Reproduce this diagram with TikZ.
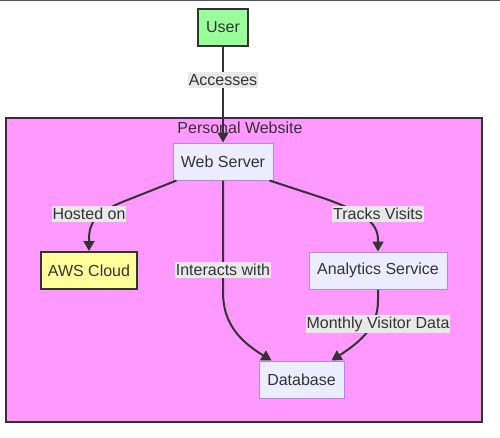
\documentclass[tikz,border=0pt]{standalone}
\usepackage{fontspec}
\setmainfont{Liberation Sans}
\usetikzlibrary{arrows.meta,calc}
\definecolor{txt}{HTML}{333333}
\definecolor{usergreen}{HTML}{99FF99}
\definecolor{awsyellow}{HTML}{FFFF99}
\definecolor{subpink}{HTML}{FF99FF}
\definecolor{nodefill}{HTML}{ECECFF}
\definecolor{nodeline}{HTML}{A98BE0}
\definecolor{lblbg}{HTML}{E8E8E8}
\definecolor{topline}{HTML}{555555}
\tikzset{
  every node/.style={font=\fontsize{16}{18}\selectfont, text=txt},
  plainbox/.style={draw=nodeline, line width=1pt, fill=nodefill, minimum height=37pt, inner sep=0pt},
  strongbox/.style={draw=txt, line width=2pt, minimum height=37pt, inner sep=0pt},
  edgelbl/.style={fill=lblbg, inner xsep=1pt, inner ysep=2pt},
  flow/.style={draw=txt, line width=2pt, -{Triangle[length=10pt,width=11pt]}},
}
\begin{document}
\begin{tikzpicture}[x=1pt,y=-1pt]
\useasboundingbox (0,0) rectangle (500,437);
\draw[topline, line width=1pt] (0,0.5) -- (500,0.5);
% subgraph
\node[draw=txt, line width=2pt, fill=subpink, minimum width=476pt, minimum height=304pt, inner sep=0pt] (sub) at (244,270) {};
\node (subtitle) at (240,128) {Personal Website};
% nodes
\node[strongbox, fill=usergreen, minimum width=50pt] (user) at (223,27) {User};
\node[plainbox, minimum width=100pt] (web) at (223,161.5) {Web Server};
\node[strongbox, fill=awsyellow, minimum width=96pt] (aws) at (89,270.5) {AWS Cloud};
\node[plainbox, minimum width=138pt] (ana) at (378,270.5) {Analytics Service};
\node[plainbox, minimum width=85pt] (db) at (301.5,379.5) {Database};
% edges
\draw[flow] (user.south) -- (web.north);
\node[edgelbl] (lacc) at (223,80) {Accesses};
\draw[flow] ($(web.south west)+(4,0)$) -- (130,199) .. controls (95,212) and (89,222) .. (89,240) -- (aws.north);
\node[edgelbl] (lhost) at (89,214) {Hosted on};
\draw[flow] ($(web.south east)+(-4,0)$) -- (326,199) .. controls (362,212) and (378,222) .. (378,240) -- (ana.north);
\node[edgelbl] (ltrack) at (378,214) {Tracks Visits};
\draw[flow] (web.south) -- (223,292) .. controls (223,322) and (238,340) .. ($(db.north west)+(13,0)$);
\node[edgelbl] (linter) at (223,270) {Interacts with};
\draw[flow] (ana.south) -- (378,300) .. controls (378,322) and (368,337) .. ($(db.north east)+(-13,0)$);
\node[edgelbl] (lmonth) at (378,324) {Monthly Visitor Data};
\end{tikzpicture}
\end{document}
